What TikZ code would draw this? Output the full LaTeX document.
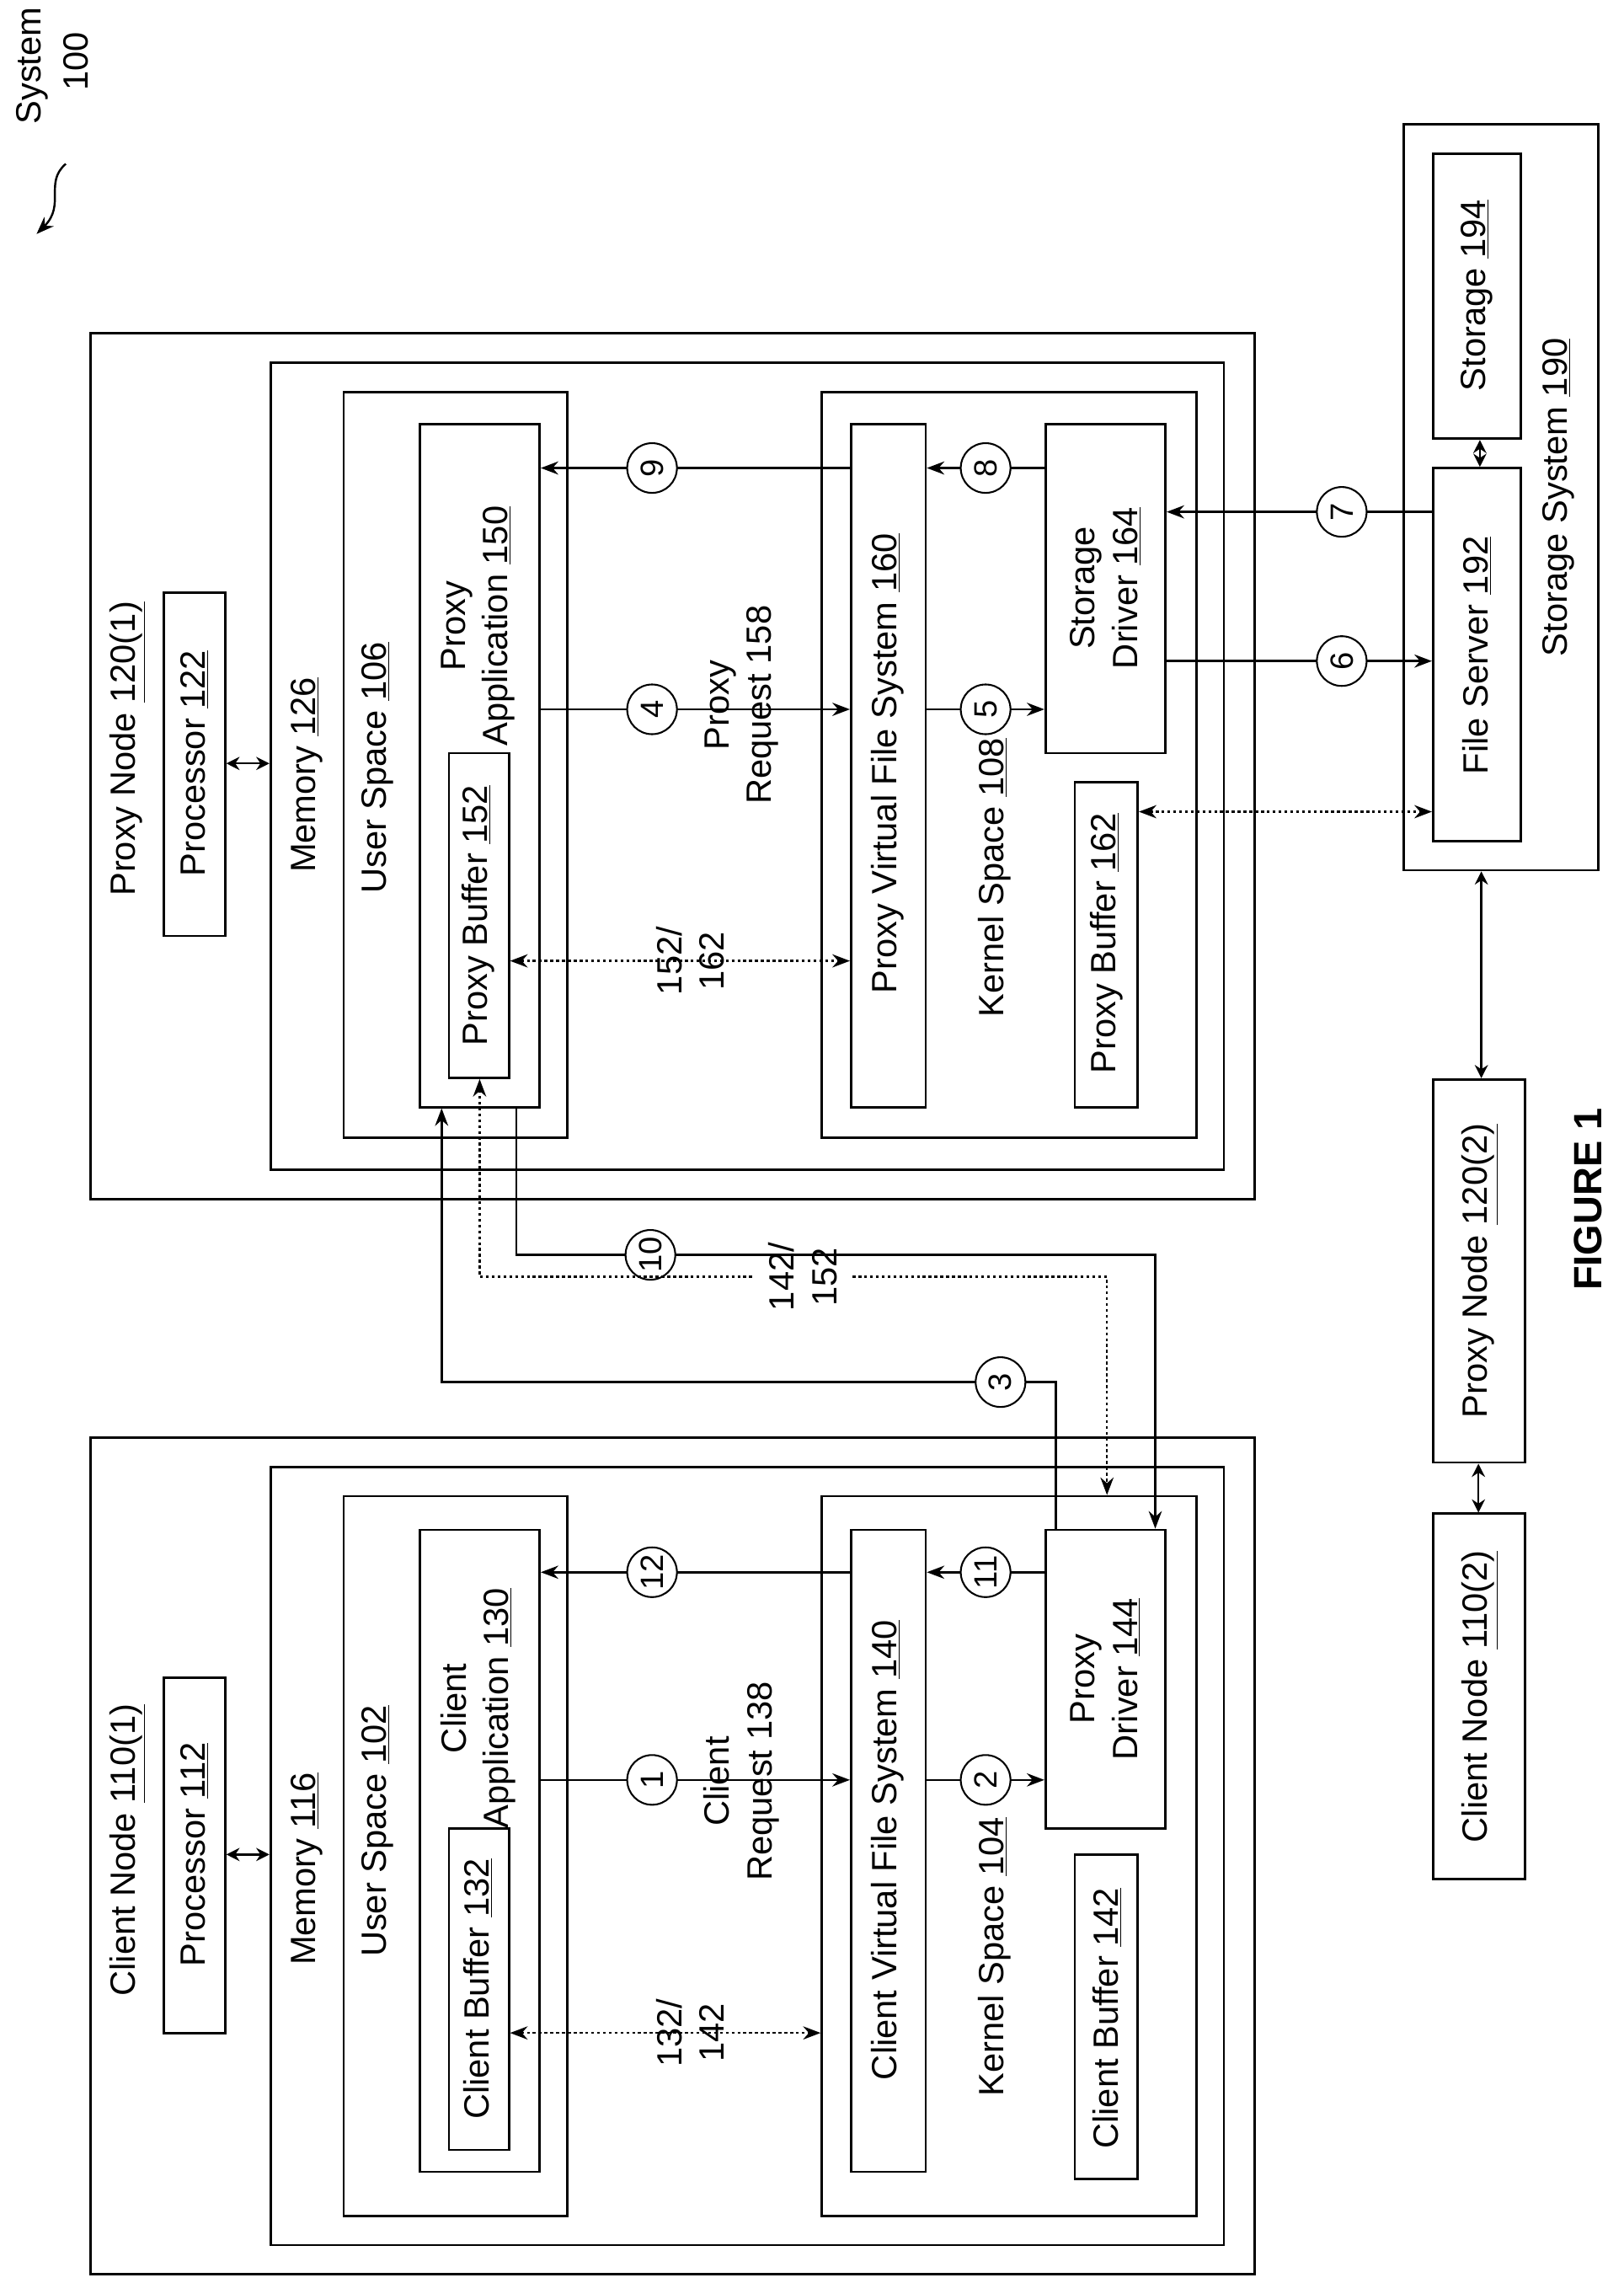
\documentclass[tikz,border=0pt]{standalone}
\usepackage{fontspec}
\setmainfont{Liberation Sans}
\usetikzlibrary{fit,arrows.meta,calc}
\newcommand{\un}[1]{\underline{#1}}
\begin{document}
\begin{tikzpicture}[x=1pt,y=-1pt,
  bx/.style={draw,line width=1.6pt,inner sep=0pt},
  t/.style={rotate=90,font=\fontsize{24}{29}\selectfont,align=center,inner sep=0pt},
  cn/.style={draw,circle,fill=white,minimum size=34pt,inner sep=0pt,rotate=90,font=\fontsize{22}{24}\selectfont,line width=1.2pt},
  ar/.style={line width=1.4pt,-{Stealth[length=12pt,width=9pt]}},
  dar/.style={line width=1.4pt,dash pattern=on 2pt off 2pt,{Stealth[length=12pt,width=9pt]}-{Stealth[length=12pt,width=9pt]}},
  bar/.style={line width=1.4pt,{Stealth[length=9pt,width=9pt]}-{Stealth[length=9pt,width=9pt]}}]
\useasboundingbox (0,0) rectangle (1110,1561);
% System label
\node[t] at (22,45) {System};
\node[t] at (52,42) {100};
\draw[line width=1.4pt,-{Stealth[length=12pt,width=9pt]}] (45,112) .. controls (30,125) and (45,140) .. (25,160);
% Client node
\node[bx,fit={(62,983)(858,1555)}] (cn1) {};
\node[bx,fit={(185,1003)(837,1535)}] (cm) {};
\node[bx,fit={(235,1023)(388,1515)}] (cus) {};
\node[bx,fit={(287,1046)(369,1485)}] (ca) {};
\node[bx,fit={(307,1250)(348,1470)}] (cb1) {};
\node[bx,fit={(562,1023)(818,1515)}] (cks) {};
\node[bx,fit={(582,1046)(633,1485)}] (cvfs) {};
\node[bx,fit={(715,1046)(797,1250)}] (pd) {};
\node[bx,fit={(735,1268)(778,1490)}] (cb2) {};
\node[bx,fit={(112,1147)(154,1390)}] (cp) {};
\node[t] at (87,1265) {Client Node \un{110(1)}};
\node[t] at (133,1268) {Processor \un{112}};
\node[t] at (210,1278) {Memory \un{116}};
\node[t] at (258,1252) {User Space \un{102}};
\node[t] at (327,1168) {Client\\Application \un{130}};
\node[t] at (327,1360) {Client Buffer \un{132}};
\node[t] at (507,1218) {Client\\Request 138};
\node[t] at (472,1390) {132/\\142};
\node[t] at (607,1265) {Client Virtual File System \un{140}};
\node[t] at (680,1338) {Kernel Space \un{104}};
\node[t] at (756,1148) {Proxy\\Driver \un{144}};
\node[t] at (757,1380) {Client Buffer \un{142}};
\draw[bar] (cp.east|-0,1268) -- (cm.west|-0,1268);
\draw[ar] (ca.east|-0,1217) -- node[cn,pos=0.36]{1} (cvfs.west|-0,1217);
\draw[ar] (cvfs.east|-0,1217) -- node[cn]{2} (pd.west|-0,1217);
\draw[ar] (pd.west|-0,1075) -- node[cn]{11} (cvfs.east|-0,1075);
\draw[ar] (cvfs.west|-0,1075) -- node[cn,pos=0.64]{12} (ca.east|-0,1075);
\draw[dar] (cb1.east|-0,1390) -- (cks.west|-0,1390);
% Proxy node
\node[bx,fit={(62,228)(858,820)}] (pn1) {};
\node[bx,fit={(185,248)(837,800)}] (pm) {};
\node[bx,fit={(235,268)(388,778)}] (pus) {};
\node[bx,fit={(287,290)(369,757)}] (pa) {};
\node[bx,fit={(307,515)(348,737)}] (pb1) {};
\node[bx,fit={(562,268)(818,778)}] (pks) {};
\node[bx,fit={(582,290)(633,757)}] (pvfs) {};
\node[bx,fit={(715,290)(797,515)}] (sd) {};
\node[bx,fit={(735,535)(778,757)}] (pb2) {};
\node[bx,fit={(112,405)(154,640)}] (pp) {};
\node[t] at (87,512) {Proxy Node \un{120(1)}};
\node[t] at (133,522) {Processor \un{122}};
\node[t] at (210,530) {Memory \un{126}};
\node[t] at (258,525) {User Space \un{106}};
\node[t] at (327,428) {Proxy\\Application \un{150}};
\node[t] at (327,626) {Proxy Buffer \un{152}};
\node[t] at (507,482) {Proxy\\Request 158};
\node[t] at (472,657) {152/\\162};
\node[t] at (607,522) {Proxy Virtual File System \un{160}};
\node[t] at (680,600) {Kernel Space \un{108}};
\node[t] at (756,402) {Storage\\Driver \un{164}};
\node[t] at (757,645) {Proxy Buffer \un{162}};
\draw[bar] (pp.east|-0,522) -- (pm.west|-0,522);
\draw[ar] (pa.east|-0,485) -- node[cn,pos=0.36]{4} (pvfs.west|-0,485);
\draw[ar] (pvfs.east|-0,485) -- node[cn]{5} (sd.west|-0,485);
\draw[ar] (sd.west|-0,320) -- node[cn]{8} (pvfs.east|-0,320);
\draw[ar] (pvfs.west|-0,320) -- node[cn,pos=0.64]{9} (pa.east|-0,320);
\draw[dar] (pb1.east|-0,657) -- (pvfs.west|-0,657);
% Storage system
\node[bx,fit={(960,85)(1093,595)}] (ss) {};
\node[bx,fit={(980,105)(1040,300)}] (st) {};
\node[bx,fit={(980,320)(1040,575)}] (fs) {};
\node[t] at (1010,202) {Storage \un{194}};
\node[t] at (1010,448) {File Server \un{192}};
\node[t] at (1066,340) {Storage System \un{190}};
\draw[bar] (st.south-|1012,0) -- (fs.north-|1012,0);
\draw[ar] (sd.east|-0,452) -- node[cn,pos=0.66]{6} (fs.west|-0,452);
\draw[ar] (fs.west|-0,350) -- node[cn,pos=0.34]{7} (sd.east|-0,350);
\draw[dar] (pb2.east|-0,555) -- (fs.west|-0,555);
% other nodes
\node[bx,fit={(980,738)(1043,1000)}] (pn2) {};
\node[bx,fit={(980,1035)(1043,1285)}] (cn2) {};
\node[t] at (1012,869) {Proxy Node \un{120(2)}};
\node[t] at (1012,1160) {Client Node \un{110(2)}};
\draw[bar] (ss.south-|1013,0) -- (pn2.north-|1013,0);
\draw[bar] (pn2.south-|1011,0) -- (cn2.north-|1011,0);
\node[t,font=\fontsize{27}{30}\selectfont\bfseries] at (1086,820) {FIGURE 1};
% inter-node
\draw[ar] (pd.north-|722,0) -- (722,945) -- node[cn,pos=0.09]{3} (302,945) -- (pa.south-|302,0);
\draw[ar] (pa.south-|353,0) -- (353,858) -- node[cn,pos=0.21]{10} (790,858) -- (pd.north-|790,0);
\draw[line width=1.4pt,dash pattern=on 2pt off 2pt,{Stealth[length=12pt,width=9pt]}-] (pb1.south-|328,0) -- (328,873) -- (515,873);
\draw[line width=1.4pt,dash pattern=on 2pt off 2pt,-{Stealth[length=12pt,width=9pt]}] (583,873) -- (757,873) -- (cks.north-|757,0);
\node[t] at (549,873) {142/\\152};
\end{tikzpicture}
\end{document}
